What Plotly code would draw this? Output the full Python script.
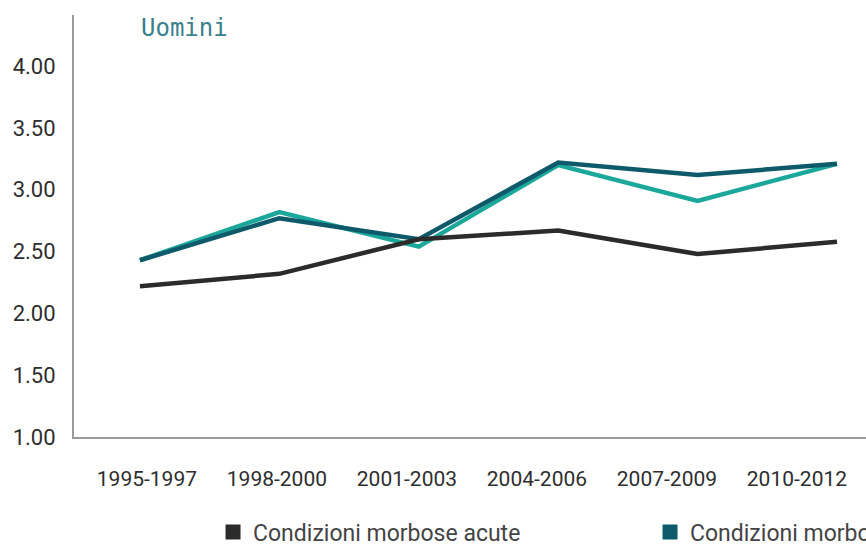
import plotly.graph_objects as go

periods = ["1995-1997", "1998-2000", "2001-2003", "2004-2006", "2007-2009", "2010-2012"]
acute = [2.22, 2.32, 2.60, 2.67, 2.48, 2.58]
croniche = [2.43, 2.77, 2.60, 3.22, 3.12, 3.21]
croniche_gravi = [2.43, 2.82, 2.54, 3.20, 2.91, 3.21]

name_acute = "Condizioni morbose acute"
name_croniche = "Condizioni morbose croniche"
name_gravi = "Condizioni morbose croniche gravi"

c_black = "#2b2b2b"
c_dark = "#0e5a6b"
c_light = "#1ba89b"

xi = list(range(len(periods)))

fig = go.Figure()
fig.add_trace(go.Scatter(x=xi, y=croniche_gravi, mode="lines", name=name_gravi,
                         line=dict(color=c_light, width=4.5), showlegend=False))
fig.add_trace(go.Scatter(x=xi, y=croniche, mode="lines", name=name_croniche,
                         line=dict(color=c_dark, width=4.5), showlegend=False))
fig.add_trace(go.Scatter(x=xi, y=acute, mode="lines", name=name_acute,
                         line=dict(color=c_black, width=4.5), showlegend=False))

# legend entries (square swatches), one legend box each so they sit side by side
for nm, col, lg in [(name_acute, c_black, "legend"), (name_croniche, c_dark, "legend2")]:
    fig.add_trace(go.Scatter(x=[None], y=[None], mode="markers", name=nm, legend=lg,
                             marker=dict(symbol="square", size=15, color=col)))

tickpos = [0.05 + i * 0.9325 for i in xi]

legend_common = dict(orientation="h", xref="container", yref="container",
                     y=0.0256, xanchor="left", yanchor="middle",
                     font=dict(size=23, color="#444444"), itemsizing="trace",
                     bgcolor="rgba(0,0,0,0)")

fig.update_layout(
    width=866, height=546,
    margin=dict(l=74, r=0, t=15, b=109, autoexpand=False),
    paper_bgcolor="white", plot_bgcolor="white",
    font=dict(family="Roboto", color="#333333"),
    xaxis=dict(range=[-0.473, 5.208], tickvals=tickpos, ticktext=periods,
               showline=True, linecolor="#9a9a9a", linewidth=2, showgrid=False,
               zeroline=False, ticks="", ticklabelstandoff=22,
               tickfont=dict(size=21, color="#2e2e2e")),
    yaxis=dict(range=[1.0, 4.414], tick0=1, dtick=0.5, tickformat=".2f",
               showline=True, linecolor="#9a9a9a", linewidth=2, showgrid=False,
               zeroline=False, ticks="", ticklabelstandoff=12,
               tickfont=dict(size=22, color="#2e2e2e")),
    legend=dict(x=0.246, **legend_common),
    legend2=dict(x=0.7506, **legend_common),
    annotations=[dict(text="Uomini", xref="paper", yref="paper", x=0.14, y=0.97,
                      xanchor="center", yanchor="middle", showarrow=False,
                      font=dict(family="DejaVu Sans Mono", size=24, color="#3a7f8c"))],
)

fig.write_html("out.html")
